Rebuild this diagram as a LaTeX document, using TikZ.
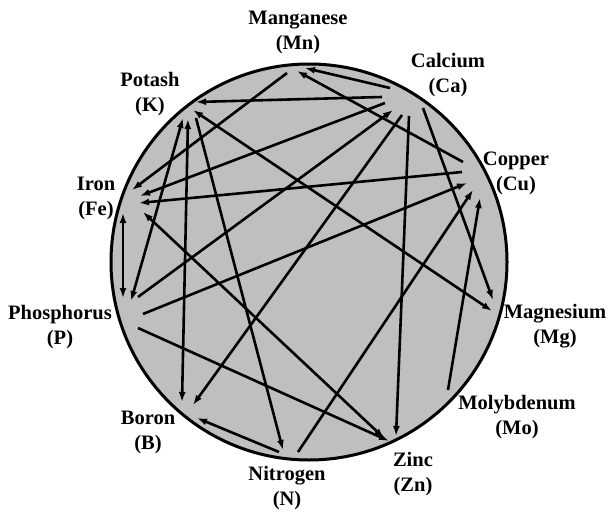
\documentclass[tikz,border=0pt]{standalone}
\usepackage{fontspec}
\setmainfont{Liberation Serif}
\usetikzlibrary{arrows.meta}
\begin{document}
\begin{tikzpicture}[x=1pt,y=-1pt,
  link/.style={line width=2.6pt,-{Latex[length=10pt,width=7pt]}},
  twoway/.style={line width=2.6pt,{Latex[length=10pt,width=7pt]}-{Latex[length=10pt,width=7pt]}},
  lbl/.style={font=\bfseries\fontsize{20.5}{25}\selectfont, align=center, inner sep=0pt}]
\useasboundingbox (0,0) rectangle (612,513);
\fill[white] (0,0) rectangle (612,513);
\draw[line width=3pt, fill=black!25] (309,262) circle[radius=198pt];

% labels
\node[lbl] (Mn) at (298,32)  {Manganese\\(Mn)};
\node[lbl] (Ca) at (448,75)  {Calcium\\(Ca)};
\node[lbl] (K)  at (150,94)  {Potash\\(K)};
\node[lbl] (Fe) at (96,198)  {Iron\\(Fe)};
\node[lbl] (Cu) at (516,173) {Copper\\(Cu)};
\node[lbl] (Mg) at (555,326) {Magnesium\\(Mg)};
\node[lbl] (Mo) at (517,417) {Molybdenum\\(Mo)};
\node[lbl] (Zn) at (413,474) {Zinc\\(Zn)};
\node[lbl] (N)  at (287,488) {Nitrogen\\(N)};
\node[lbl] (B)  at (148,432) {Boron\\(B)};
\node[lbl] (P)  at (60,327)  {Phosphorus\\(P)};

% anchor points
\coordinate (mnA) at (305,68);  \coordinate (mnB) at (297,71);  \coordinate (mnC) at (287,73);
\coordinate (caA) at (390,88);  \coordinate (caB) at (382,97);  \coordinate (caC) at (385,103);
\coordinate (caD) at (393,110); \coordinate (caE) at (402,115); \coordinate (caF) at (409,116);
\coordinate (caG) at (423,108);
\coordinate (cuA) at (463,162); \coordinate (cuB) at (462,172); \coordinate (cuC) at (467,183);
\coordinate (cuD) at (473,190); \coordinate (cuE) at (480,198);
\coordinate (feA) at (132,190); \coordinate (feB) at (140,196); \coordinate (feC) at (139,203);
\coordinate (feD) at (143,212); \coordinate (feE) at (123,213);
\coordinate (pA) at (123,298);  \coordinate (pB) at (131,301);  \coordinate (pC) at (138,297);
\coordinate (pD) at (143,314);  \coordinate (pE) at (138,328);
\coordinate (kA) at (196,102);  \coordinate (kB) at (193,110);  \coordinate (kC) at (183,118);
\coordinate (kD) at (188,119);  \coordinate (kE) at (196,118);
\coordinate (mgA) at (493,300); \coordinate (mgB) at (492,311);
\coordinate (moA) at (448,390);
\coordinate (znA) at (396,436); \coordinate (znB) at (384,438); \coordinate (znC) at (389,441);
\coordinate (nA) at (283,450);  \coordinate (nB) at (279,452);  \coordinate (nC) at (298,452);
\coordinate (bA) at (182,402);  \coordinate (bB) at (193,405);  \coordinate (bC) at (197,418);

% connectors
\draw[link] (caA) -- (mnA);
\draw[link] (cuA) -- (mnB);
\draw[link] (mnC) -- (feA);
\draw[link] (caB) -- (kA);
\draw[link] (caC) -- (feB);
\draw[link] (pC) -- (caD);
\draw[link] (caE) -- (bB);
\draw[link] (caF) -- (znA);
\draw[link] (caG) -- (mgA);
\draw[link] (cuB) -- (feC);
\draw[link] (pD) -- (cuC);
\draw[link] (nC) -- (cuD);
\draw[link] (moA) -- (cuE);
\draw[twoway] (kB) -- (mgB);
\draw[twoway] (kC) -- (pB);
\draw[twoway] (kD) -- (bA);
\draw[link] (kE) -- (nA);
\draw[link] (nB) -- (bC);
\draw[twoway] (feE) -- (pA);
\draw[twoway] (feD) -- (znB);
\draw[link] (pE) -- (znC);
\end{tikzpicture}
\end{document}
